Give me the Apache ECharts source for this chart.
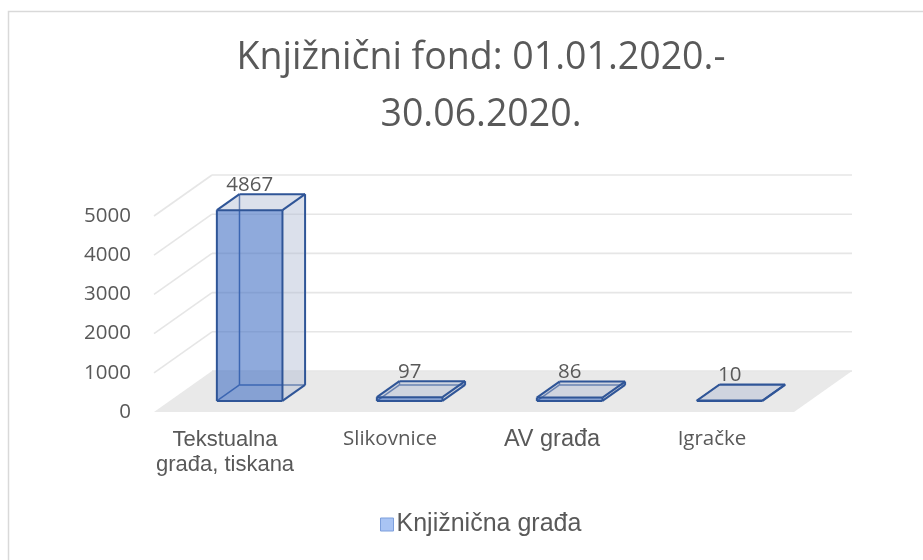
<!DOCTYPE html>
<html>
<head>
<meta charset="utf-8">
<script src="https://cdn.jsdelivr.net/npm/echarts@6/dist/echarts.min.js"></script>
<style>
html,body{margin:0;padding:0;background:#fff;}
#chart{width:923px;height:560px;}
</style>
</head>
<body>
<div id="chart"></div>
<script>
// ---- data ----
const categories = ['Tekstualna\ngrađa, tiskana', 'Slikovnice', 'AV građa', 'Igračke'];
const values = [4867, 97, 86, 10];
const yTicks = [0, 1000, 2000, 3000, 4000, 5000];
const seriesName = 'Knjižnična građa';
const titleText = 'Knjižnični fond: 01.01.2020.-\n30.06.2020.';

// ---- styling constants (3D projection) ----
const DX = 58, DY = -41;        // full depth offset of the floor
const F1 = 0.27, F2 = 0.66;     // bar front / back depth fraction
const BAR_W = 0.41;             // fraction of band
const TXT = '#595959';
const EDGE = '#2f5597';

const catStyles = [
  {fontFamily: '"Liberation Sans", Arial, sans-serif', fontSize: 22, padding: [0, 18, 0, 0]},
  {fontFamily: '"Open Sans", sans-serif', fontSize: 20.5, padding: [0, 8, 0, 0]},
  {fontFamily: '"Liberation Sans", Arial, sans-serif', fontSize: 23.5, padding: [0, 4, 0, 0]},
  {fontFamily: '"Open Sans", sans-serif', fontSize: 20.5, padding: [0, 4, 0, 0]}
];
const rich = {};
catStyles.forEach((s, i) => {
  rich['c' + i] = Object.assign({color: TXT, lineHeight: 25}, s);
});

const chart = echarts.init(document.getElementById('chart'));

function floorItem(params, api) {
  const cs = params.coordSys;
  const y0 = api.coord([0, 0])[1];
  const l = cs.x, r = cs.x + cs.width;
  return {
    type: 'polygon',
    shape: {points: [[l, y0], [r, y0], [r + DX, y0 + DY], [l + DX, y0 + DY]]},
    style: {fill: '#e9e9e9', stroke: null}
  };
}

function wallItem(params, api) {
  const cs = params.coordSys;
  const v = api.value(1);
  const y = api.coord([0, v])[1];
  const l = cs.x, r = cs.x + cs.width;
  const children = [];
  const st = {stroke: '#e6e6e6', lineWidth: 1.6};
  if (v !== 0) {
    children.push({type: 'line', shape: {x1: l, y1: y, x2: l + DX, y2: y + DY}, style: st});
  }
  children.push({type: 'line', shape: {x1: l + DX, y1: y + DY, x2: r + DX, y2: y + DY}, style: st});
  return {type: 'group', children: children};
}

function barItem(params, api) {
  const i = api.value(0);
  const v = api.value(1);
  const base = api.coord([i, 0]);
  const top = api.coord([i, v]);
  const band = api.size([1, 0])[0];
  const w = band * BAR_W;
  const c = base[0];
  const fx = DX * F1, fy = DY * F1;
  const bx = DX * F2, by = DY * F2;
  const x1 = c - w / 2, x2 = c + w / 2;
  const yb = base[1], yt = top[1];
  const FBL = [x1 + fx, yb + fy], FBR = [x2 + fx, yb + fy];
  const FTL = [x1 + fx, yt + fy], FTR = [x2 + fx, yt + fy];
  const BBL = [x1 + bx, yb + by], BBR = [x2 + bx, yb + by];
  const BTL = [x1 + bx, yt + by], BTR = [x2 + bx, yt + by];
  const hidden = {stroke: EDGE, lineWidth: 1.5, fill: null};
  const vis = {stroke: EDGE, lineWidth: 2, fill: null};
  const ln = (a, b, s) => ({type: 'line', shape: {x1: a[0], y1: a[1], x2: b[0], y2: b[1]}, style: s});
  const children = [
    // hidden back edges
    ln(BBL, BBR, hidden), ln(BBL, BTL, hidden), ln(FBL, BBL, hidden),
    // faces
    {type: 'polygon', shape: {points: [FBR, BBR, BTR, FTR]}, style: {fill: 'rgba(175,186,210,0.45)'}},
    {type: 'polygon', shape: {points: [FTL, FTR, BTR, BTL]}, style: {fill: 'rgba(175,186,210,0.45)'}},
    {type: 'polygon', shape: {points: [FBL, FBR, FTR, FTL]}, style: {fill: 'rgba(68,114,196,0.6)'}},
    // visible edges
    ln(FBL, FBR, vis), ln(FBR, FTR, vis), ln(FTR, FTL, vis), ln(FTL, FBL, vis),
    ln(FTL, BTL, vis), ln(BTL, BTR, vis), ln(BTR, FTR, vis),
    ln(FBR, BBR, vis), ln(BBR, BTR, vis),
    {type: 'text', style: {
      text: String(v), x: c + fx, y: yt + by - 9,
      align: 'center', verticalAlign: 'middle',
      fill: TXT, fontSize: 20.5, fontFamily: '"Open Sans", sans-serif'
    }}
  ];
  return {type: 'group', children: children};
}

const option = {
  animation: false,
  backgroundColor: '#ffffff',
  title: {
    text: titleText,
    left: 481,
    top: 30,
    textAlign: 'center',
    padding: 0,
    textStyle: {
      color: TXT, fontSize: 37.5, fontWeight: 'normal',
      fontFamily: '"Open Sans", sans-serif', lineHeight: 57
    }
  },
  legend: {
    data: [seriesName],
    left: 380,
    top: 512,
    padding: 0,
    icon: 'rect',
    itemWidth: 13,
    itemHeight: 13,
    itemGap: 4,
    textStyle: {color: TXT, fontSize: 25, fontFamily: '"Liberation Sans", Arial, sans-serif', padding: [0, 0, 0, -2]},
    itemStyle: {color: '#a9c4f4', borderColor: '#7d9fdc', borderWidth: 1}
  },
  grid: {left: 154, right: 129, top: 216, bottom: 148, containLabel: false},
  xAxis: {
    type: 'category',
    data: categories,
    axisLine: {show: false},
    axisTick: {show: false},
    splitLine: {show: false},
    axisLabel: {
      interval: 0,
      margin: 15,
      formatter: function (val, idx) {
        return val.split('\n').map(l => '{c' + idx + '|' + l + '}').join('\n');
      },
      rich: rich
    }
  },
  yAxis: {
    type: 'value',
    min: 0,
    max: 5000,
    interval: 1000,
    axisLine: {show: false},
    axisTick: {show: false},
    splitLine: {show: false},
    axisLabel: {
      color: TXT, fontSize: 20.5, margin: 23, fontFamily: '"Open Sans", sans-serif',
      formatter: v => String(v)
    }
  },
  graphic: [{
    type: 'rect',
    shape: {x: 8.5, y: 11.5, width: 1000, height: 1000},
    style: {fill: null, stroke: '#d9d9d9', lineWidth: 1.5},
    silent: true,
    z: -10
  }],
  series: [
    {
      type: 'custom',
      name: 'floor',
      clip: false,
      z: 1,
      silent: true,
      renderItem: floorItem,
      data: [[0, 0]]
    },
    {
      type: 'custom',
      name: 'walls',
      clip: false,
      z: 2,
      silent: true,
      renderItem: wallItem,
      data: yTicks.map(v => [0, v])
    },
    {
      type: 'custom',
      name: seriesName,
      clip: false,
      z: 3,
      itemStyle: {color: '#a9c4f4'},
      renderItem: barItem,
      encode: {x: 0, y: 1},
      data: values.map((v, i) => [i, v])
    }
  ]
};
chart.setOption(option);
</script>
</body>
</html>
